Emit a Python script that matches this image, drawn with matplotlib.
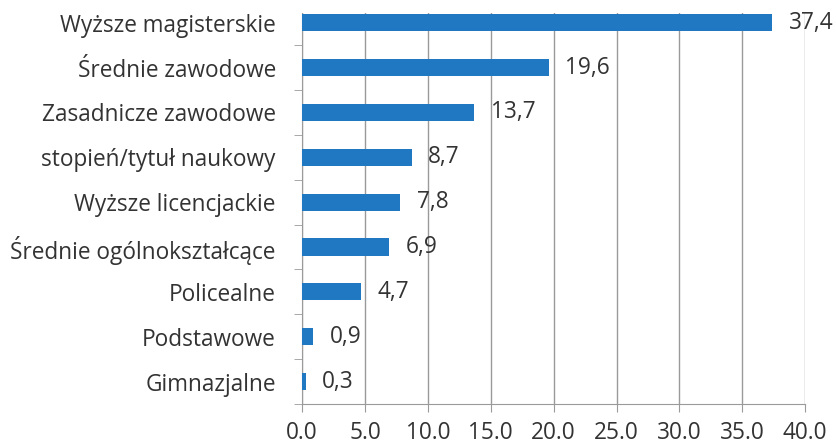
import matplotlib.pyplot as plt
import numpy as np

categories = ['Wyższe magisterskie', 'Średnie zawodowe', 'Zasadnicze zawodowe',
              'stopień/tytuł naukowy', 'Wyższe licencjackie', 'Średnie ogólnokształcące',
              'Policealne', 'Podstawowe', 'Gimnazjalne']
values = [37.4, 19.6, 13.7, 8.7, 7.8, 6.9, 4.7, 0.9, 0.3]
xticks = [0, 5, 10, 15, 20, 25, 30, 35, 40]

plt.rcParams['font.family'] = ['Open Sans', 'DejaVu Sans']
text_col = '#333333'
grid_col = '#9a9a9a'
fs = 16.3

fig = plt.figure(figsize=(8.37, 4.43), dpi=100)
ax = fig.add_axes([0.361, 0.088, 0.601, 0.883])

y = np.arange(len(categories))
ax.barh(y, values, height=0.38, color='#1f78c1', zorder=3)
# top of the original chart is cropped a little
ax.set_ylim(len(categories) - 0.5, -0.22)
ax.set_xlim(0, 40)

for yi, v in zip(y, values):
    ax.text(v + 1.3, yi, ('%.1f' % v).replace('.', ','), va='center', ha='left',
            fontsize=fs, color=text_col, zorder=4)

ax.set_yticks(y)
ax.set_yticklabels(categories, fontsize=fs, color=text_col)
ax.tick_params(axis='y', which='major', length=0, pad=19)
ax.set_yticks(np.arange(1, len(categories) + 1) - 0.5, minor=True)
ax.tick_params(axis='y', which='minor', length=6, color=grid_col, direction='out')

ax.set_xticks(xticks)
ax.set_xticklabels(['%.1f' % t for t in xticks], fontsize=fs, color=text_col)
ax.tick_params(axis='x', length=6, color=grid_col, pad=6)

ax.grid(axis='x', color=grid_col, linewidth=1, zorder=0)
for s in ['top', 'right']:
    ax.spines[s].set_visible(False)
for s in ['left', 'bottom']:
    ax.spines[s].set_color(grid_col)

fig.savefig('out.png', dpi=100)
